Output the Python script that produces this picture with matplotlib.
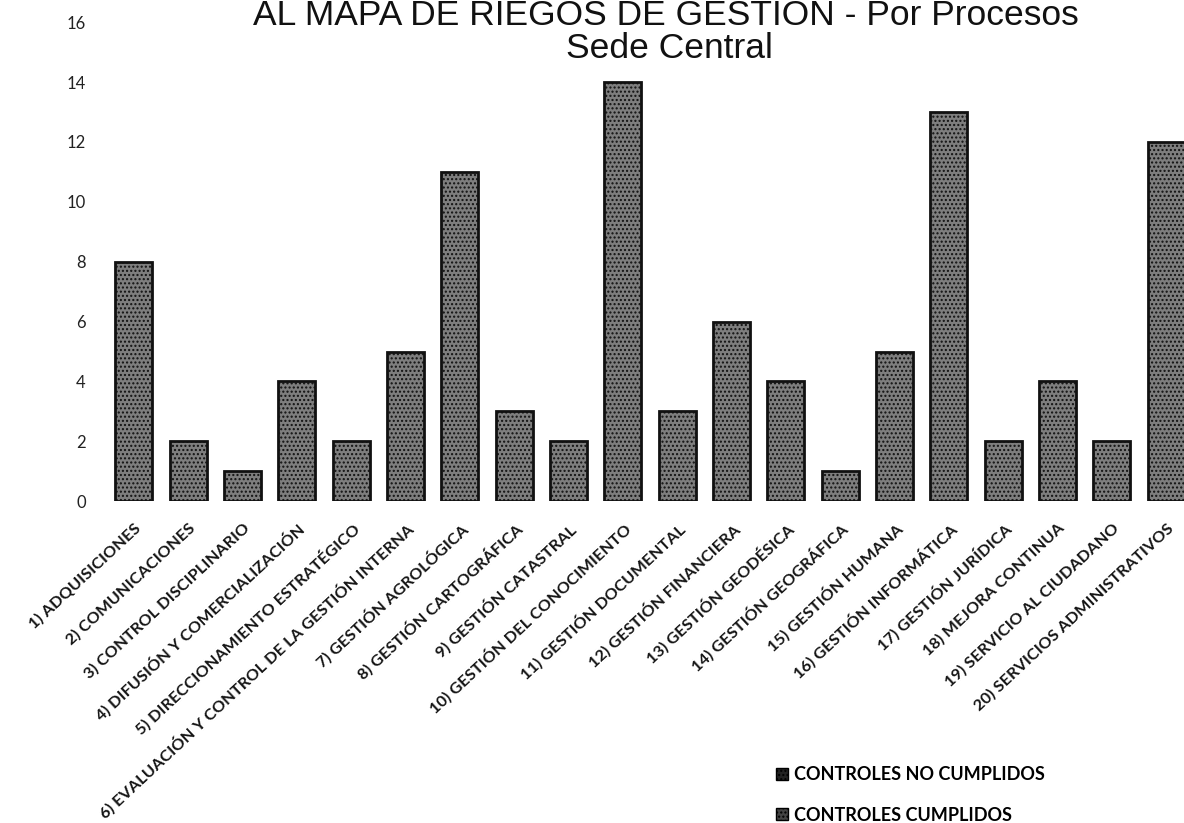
import matplotlib.pyplot as plt
from matplotlib.patches import Patch

# Datos: controles no cumplidos por proceso (Sede Central)
procesos = [
    '1) ADQUISICIONES',
    '2) COMUNICACIONES',
    '3) CONTROL DISCIPLINARIO',
    '4) DIFUSIÓN Y COMERCIALIZACIÓN',
    '5) DIRECCIONAMIENTO ESTRATÉGICO',
    '6) EVALUACIÓN Y CONTROL DE LA GESTIÓN INTERNA',
    '7) GESTIÓN AGROLÓGICA',
    '8) GESTIÓN CARTOGRÁFICA',
    '9) GESTIÓN CATASTRAL',
    '10) GESTIÓN DEL CONOCIMIENTO',
    '11) GESTIÓN DOCUMENTAL',
    '12) GESTIÓN FINANCIERA',
    '13) GESTIÓN GEODÉSICA',
    '14) GESTIÓN GEOGRÁFICA',
    '15) GESTIÓN HUMANA',
    '16) GESTIÓN INFORMÁTICA',
    '17) GESTIÓN JURÍDICA',
    '18) MEJORA CONTINUA',
    '19) SERVICIO AL CIUDADANO',
    '20) SERVICIOS ADMINISTRATIVOS',
]
no_cumplidos = [8, 2, 1, 4, 2, 5, 11, 3, 2, 14, 3, 6, 4, 1, 5, 13, 2, 4, 2, 12]
y_ticks = [0, 2, 4, 6, 8, 10, 12, 14, 16]

titulo_1 = 'AL MAPA DE RIEGOS DE GESTION - Por Procesos'
titulo_2 = 'Sede Central'
leyenda = ['CONTROLES NO CUMPLIDOS', 'CONTROLES CUMPLIDOS']

fig = plt.figure(figsize=(11.84, 8.23), dpi=100)
ax = fig.add_axes([0.09, 0.391, 0.91, 0.582])

x = list(range(len(procesos)))
ax.bar(x, no_cumplidos, width=0.68, color='#7e7e7e', edgecolor='#111111',
       linewidth=2.0, hatch='....')

ax.set_xlim(-0.5, 19.33)
ax.set_ylim(0, 16)
ax.set_yticks(y_ticks)
ax.set_yticklabels([str(v) for v in y_ticks], fontsize=12, family='Lato',
                   color='#222222')
ax.set_xticks(x)
ax.set_xticklabels(procesos, rotation=43, ha='right', rotation_mode='anchor',
                   fontsize=11.8, family='Lato', weight='bold', color='#151515')
ax.tick_params(axis='x', length=0, pad=14)
ax.tick_params(axis='y', length=0, pad=15)
for s in ax.spines.values():
    s.set_visible(False)

fig.text(0.562, 1 - 25 / 823, titulo_1, ha='center', va='baseline',
         fontsize=25.5, family='Liberation Sans', color='#111111')
fig.text(0.565, 1 - 58 / 823, titulo_2, ha='center', va='baseline',
         fontsize=25.5, family='Liberation Sans', color='#111111')

handles = [Patch(facecolor='#222222', edgecolor='black', hatch='....'),
           Patch(facecolor='#444444', edgecolor='black', hatch='....')]
fig.legend(handles, leyenda,
           loc='upper left', bbox_to_anchor=(0.648, 0.08), frameon=False,
           prop={'family': 'Lato', 'size': 13, 'weight': 'bold'},
           handlelength=0.65, handleheight=0.65, handletextpad=0.35,
           labelspacing=1.3, borderpad=0)

fig.savefig('out.png', dpi=100)
